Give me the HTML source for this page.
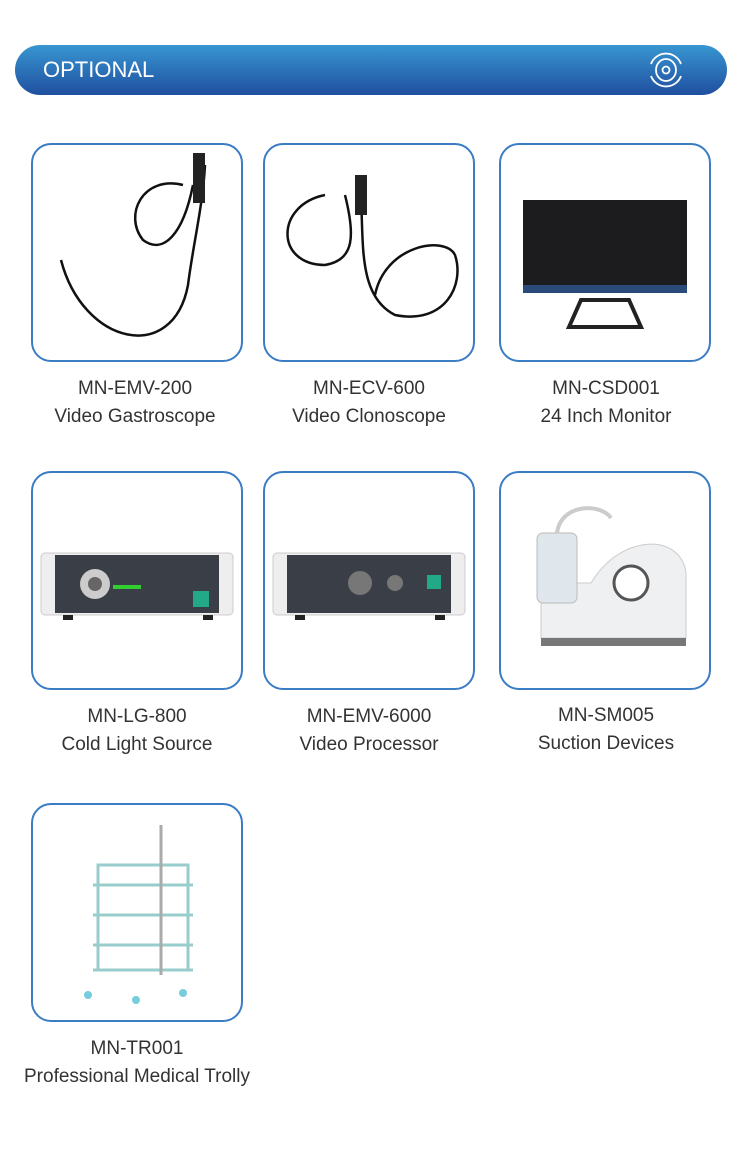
<!DOCTYPE html>
<html><head><meta charset="utf-8"><style>
body{margin:0;width:750px;height:1154px;background:#fff;position:relative;font-family:"Liberation Sans",sans-serif;overflow:hidden}
.bar{position:absolute;left:15px;top:45px;width:712px;height:50px;border-radius:25px;background:linear-gradient(#3896d1,#1f4fa0)}
.bar span{position:absolute;left:28px;top:12px;color:#fff;font-size:22px}
.card{position:absolute;width:208px;height:215px;border:2px solid #3b7dc4;border-radius:20px;background:#fff;overflow:hidden}
.lab{position:absolute;width:240px;text-align:center;color:#333;font-size:19px;line-height:28px}
svg{position:absolute;left:0;top:0}
</style></head><body>
<div class="bar"><span>OPTIONAL</span>
<svg style="left:631px;top:5px" width="40" height="40" viewBox="0 0 40 40" fill="none" stroke="#fff" stroke-width="1.8"><path d="M5 14 A16 16 0 0 1 35 14M5 26 A16 16 0 0 0 35 26"/><ellipse cx="20" cy="20" rx="10" ry="11"/><circle cx="20" cy="20" r="3.5"/></svg></div>

<div class="card" style="left:31px;top:143px"><svg width="208" height="215"><g fill="none" stroke="#111" stroke-width="2.5"><path d="M28 115 C50 200 140 220 155 140 C160 100 170 60 172 20"/><path d="M150 40 C110 30 90 70 110 95 C130 110 150 90 160 40"/></g><rect x="160" y="8" width="12" height="50" fill="#222"/></svg></div>
<div class="card" style="left:263px;top:143px"><svg width="208" height="215"><g fill="none" stroke="#111" stroke-width="2.5"><path d="M60 50 C10 60 10 120 60 120 C90 115 90 90 80 50"/><path d="M95 40 C100 90 90 150 130 170 C180 180 200 140 190 110 C180 90 120 100 110 150"/></g><rect x="90" y="30" width="12" height="40" fill="#222"/></svg></div>
<div class="card" style="left:499px;top:143px"><svg width="208" height="215"><rect x="22" y="55" width="164" height="93" fill="#1c1c1e"/><rect x="22" y="140" width="164" height="8" fill="#2a4a7a"/><path d="M68 182 L80 155 L128 155 L140 182 Z" fill="none" stroke="#222" stroke-width="4"/></svg></div>

<div class="card" style="left:31px;top:471px"><svg width="208" height="215"><rect x="8" y="80" width="192" height="62" rx="4" fill="#eee" stroke="#ccc"/><rect x="22" y="82" width="164" height="58" fill="#3a3f47"/><circle cx="62" cy="111" r="15" fill="#ccc"/><circle cx="62" cy="111" r="7" fill="#666"/><rect x="80" y="112" width="28" height="4" fill="#3c3"/><rect x="160" y="118" width="16" height="16" fill="#2a8"/><rect x="30" y="142" width="10" height="5" fill="#222"/><rect x="170" y="142" width="10" height="5" fill="#222"/></svg></div>
<div class="card" style="left:263px;top:471px"><svg width="208" height="215"><rect x="8" y="80" width="192" height="62" rx="4" fill="#eee" stroke="#ccc"/><rect x="22" y="82" width="164" height="58" fill="#3a3f47"/><circle cx="95" cy="110" r="12" fill="#777"/><circle cx="130" cy="110" r="8" fill="#777"/><rect x="162" y="102" width="14" height="14" fill="#2a8"/><rect x="30" y="142" width="10" height="5" fill="#222"/><rect x="170" y="142" width="10" height="5" fill="#222"/></svg></div>
<div class="card" style="left:499px;top:471px"><svg width="208" height="215"><path d="M40 110 L40 165 L185 165 L185 100 C180 60 120 60 90 110 Z" fill="#eef0f2" stroke="#ccc"/><rect x="36" y="60" width="40" height="70" rx="6" fill="#dfe7ec" stroke="#bbb"/><circle cx="130" cy="110" r="17" fill="#fff" stroke="#555" stroke-width="3"/><rect x="40" y="165" width="145" height="8" fill="#777"/><path d="M56 60 C60 30 100 30 110 45" fill="none" stroke="#ccc" stroke-width="4"/></svg></div>

<div class="card" style="left:31px;top:803px"><svg width="208" height="215"><g stroke="#9cc" stroke-width="3" fill="none"><rect x="65" y="60" width="90" height="105"/><line x1="60" y1="80" x2="160" y2="80"/><line x1="60" y1="110" x2="160" y2="110"/><line x1="60" y1="140" x2="160" y2="140"/><line x1="60" y1="165" x2="160" y2="165"/></g><line x1="128" y1="20" x2="128" y2="170" stroke="#aaa" stroke-width="3"/><circle cx="55" cy="190" r="4" fill="#7cd"/><circle cx="103" cy="195" r="4" fill="#7cd"/><circle cx="150" cy="188" r="4" fill="#7cd"/></svg></div>

<div class="lab" style="left:15px;top:375px">MN-EMV-200<br>Video Gastroscope</div>
<div class="lab" style="left:249px;top:375px">MN-ECV-600<br>Video Clonoscope</div>
<div class="lab" style="left:486px;top:375px">MN-CSD001<br>24 Inch Monitor</div>
<div class="lab" style="left:17px;top:703px">MN-LG-800<br>Cold Light Source</div>
<div class="lab" style="left:249px;top:703px">MN-EMV-6000<br>Video Processor</div>
<div class="lab" style="left:486px;top:702px">MN-SM005<br>Suction Devices</div>
<div class="lab" style="left:17px;top:1035px">MN-TR001<br>Professional Medical Trolly</div>
</body></html>
